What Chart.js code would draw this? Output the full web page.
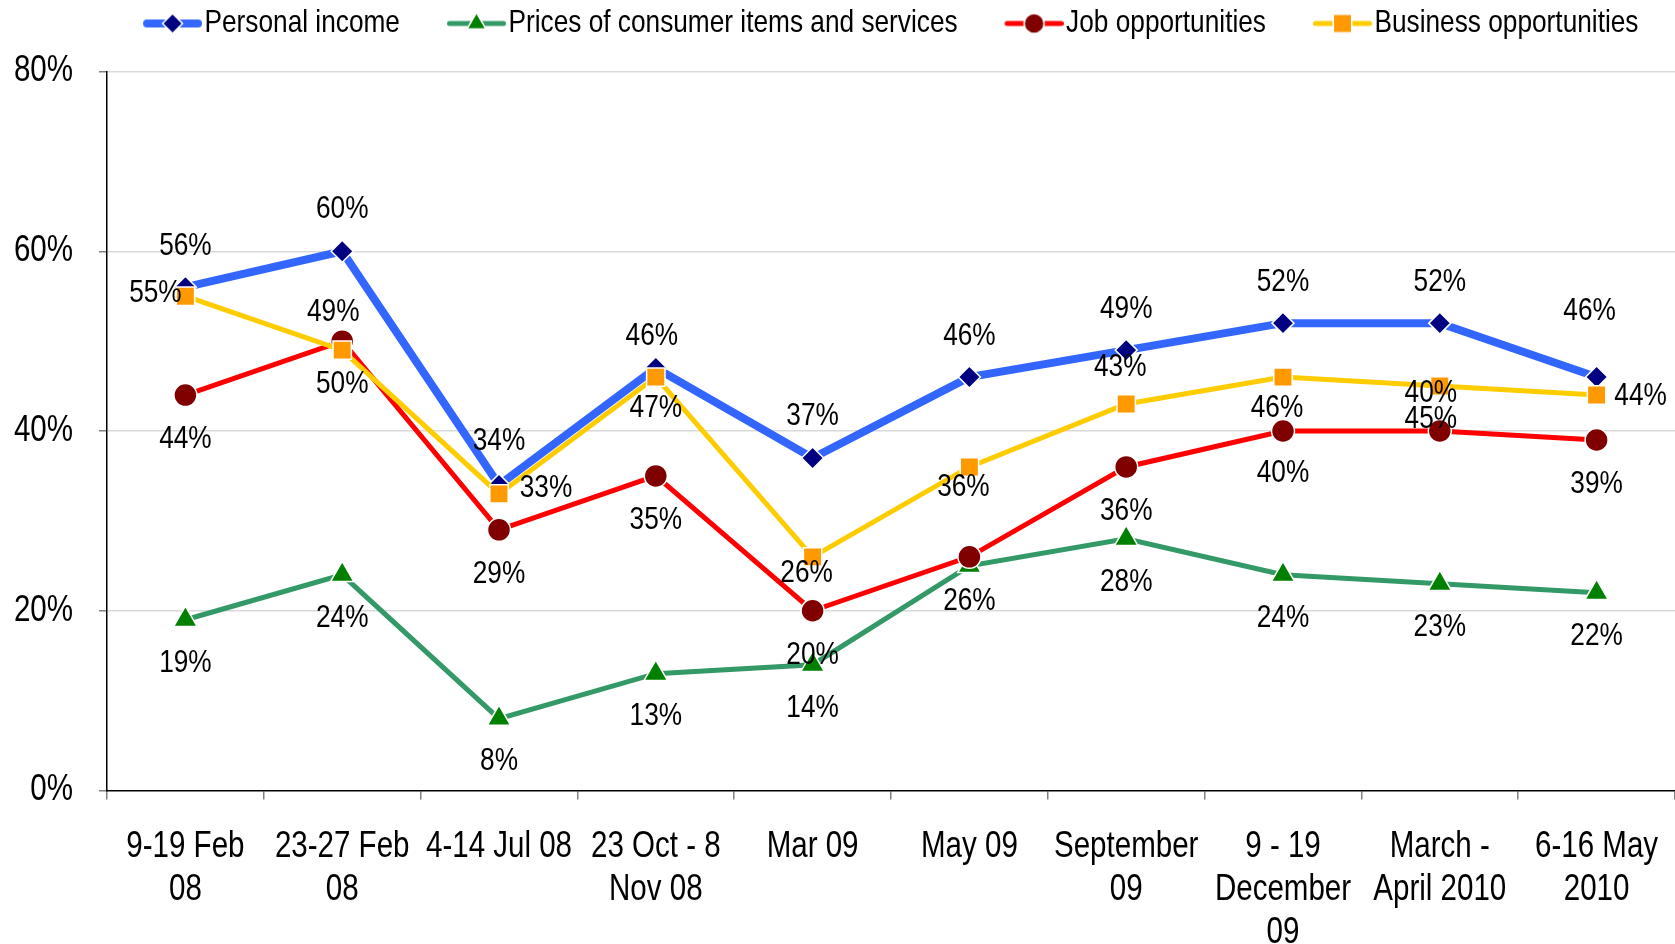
<!DOCTYPE html>
<html>
<head>
<meta charset="utf-8">
<script src="https://cdn.jsdelivr.net/npm/chart.js@4.4.1/dist/chart.umd.min.js"></script>
<style>
  html, body { margin: 0; padding: 0; background: #fff; overflow: hidden; }
  canvas { display: block; }
</style>
</head>
<body>
<canvas id="surveyChart" width="1675" height="944"></canvas>
<script>
var categories = [["9-19 Feb", "08"], ["23-27 Feb", "08"], "4-14 Jul 08", ["23 Oct - 8", "Nov 08"], "Mar 09", "May 09",
                  ["September", "09"], ["9 - 19", "December", "09"], ["March -", "April 2010"], ["6-16 May", "2010"]];
var personalIncome = [56, 60, 34, 47, 37, 46, 49, 52, 52, 46];
var consumerPrices = [19, 24, 8, 13, 14, 25, 28, 24, 23, 22];
var jobOpportunities = [44, 50, 29, 35, 20, 26, 36, 40, 40, 39];
var businessOpportunities = [55, 49, 33, 46, 26, 36, 43, 46, 45, 44];
var yTicks = [0, 20, 40, 60, 80];

// no narrow face installed, so squeeze Liberation Sans horizontally (Arial Narrow ~ 82%)
var fontFamily = "'Liberation Sans', Arial, sans-serif";
var squeeze = 0.82;

// line + marker image used as the legend symbol
function legendSymbol(lineColor, lineWidth, style, fill, radius) {
    var c = document.createElement('canvas');
    c.width = 112;
    c.height = 30;
    var g = c.getContext('2d');
    g.strokeStyle = lineColor;
    g.lineWidth = lineWidth;
    g.lineCap = 'round';
    g.beginPath();
    g.moveTo(53 + lineWidth / 2, 15);
    g.lineTo(112 - lineWidth / 2, 15);
    g.stroke();
    g.fillStyle = fill;
    g.strokeStyle = '#fff';
    g.lineWidth = 1.5;
    Chart.helpers.drawPoint(g, {pointStyle: style, radius: radius, rotation: 0, borderWidth: 1.5}, 82.5, 15);
    return c;
}

var pointLabels = {
    id: 'pointLabels',
    afterDatasetsDraw: function (chart) {
        var ctx = chart.ctx;
        ctx.save();
        ctx.font = '32px ' + fontFamily;
        ctx.fillStyle = '#000';
        ctx.textAlign = 'center';
        ctx.textBaseline = 'middle';
        chart.data.datasets.forEach(function (ds, i) {
            var meta = chart.getDatasetMeta(i);
            meta.data.forEach(function (pt, j) {
                if (ds.hideLabels.indexOf(j) >= 0) return;
                var off = ds.labelOffsets[j];
                ctx.fillText(ds.data[j] + '%', pt.x + off[0], pt.y + off[1]);
            });
        });
        ctx.restore();
    }
};

// legend: extra room below it, and centred over the plot area rather than the whole canvas
var legendOverPlot = {
    id: 'legendOverPlot',
    afterInit: function (chart) {
        var fit = chart.legend.fit;
        chart.legend.fit = function () {
            fit.call(this);
            this.height += 22;
        };
    },
    afterLayout: function (chart) {
        chart.legend.left = chart.chartArea.left - 40;
    }
};

var ctx = document.getElementById('surveyChart').getContext('2d');
var baseFill = ctx.fillText.bind(ctx);
var baseMeasure = ctx.measureText.bind(ctx);
ctx.fillText = function (text, x, y) {
    this.save();
    this.translate(x, y);
    this.scale(squeeze, 1);
    baseFill(text, 0, 0);
    this.restore();
};
ctx.measureText = function (text) {
    var m = baseMeasure(text);
    return { width: m.width * squeeze, actualBoundingBoxAscent: m.actualBoundingBoxAscent, actualBoundingBoxDescent: m.actualBoundingBoxDescent };
};

var myChart = new Chart(ctx, {
    type: 'line',
    data: {
        labels: categories,
        datasets: [{
            label: "Personal income",
            data: personalIncome,
            borderColor: "#3366FF",
            borderWidth: 8,
            pointStyle: 'rectRot',
            pointRadius: 11,
            pointBackgroundColor: "#000080",
            pointBorderColor: "#fff",
            pointBorderWidth: 1.5,
            order: 4,
            symbol: legendSymbol("#3366FF", 8, 'rectRot', "#000080", 10),
            labelOffsets: [[0, -41], [0, -42], [0, -44], [0, 40], [0, -42], [0, -41], [0, -41], [0, -41], [0, -41], [-7, -66]],
            hideLabels: []
        }, {
            label: "Prices of consumer items and services",
            data: consumerPrices,
            borderColor: "#339966",
            borderWidth: 5,
            pointStyle: 'triangle',
            pointRadius: 13.5,
            pointBackgroundColor: "#008000",
            pointBorderColor: "#fff",
            pointBorderWidth: 1.5,
            order: 3,
            symbol: legendSymbol("#339966", 5, 'triangle', "#008000", 11),
            labelOffsets: [[0, 43], [0, 43], [0, 43], [0, 43], [0, 43], [0, 43], [0, 43], [0, 43], [0, 43], [0, 43]],
            hideLabels: [5]
        }, {
            label: "Job opportunities",
            data: jobOpportunities,
            borderColor: "#FF0000",
            borderWidth: 5,
            pointStyle: 'circle',
            pointRadius: 11.5,
            pointBackgroundColor: "#800000",
            pointBorderColor: "#fff",
            pointBorderWidth: 1.5,
            order: 2,
            symbol: legendSymbol("#FF0000", 5, 'circle', "#800000", 10),
            labelOffsets: [[0, 44], [0, 43], [0, 44], [0, 44], [0, 44], [0, 44], [0, 44], [0, 42], [-9, -38], [0, 44]],
            hideLabels: []
        }, {
            label: "Business opportunities",
            data: businessOpportunities,
            borderColor: "#FFCC00",
            borderWidth: 5,
            pointStyle: 'rect',
            pointRadius: 13,
            pointBackgroundColor: "#FF9900",
            pointBorderColor: "#fff",
            pointBorderWidth: 1.5,
            order: 1,
            symbol: legendSymbol("#FFCC00", 5, 'rect', "#FF9900", 13),
            labelOffsets: [[-30, -3], [-9, -38], [47, -6], [-4, -41], [-6, 16], [-6, 20], [-6, -37], [-6, 31], [-9, 33], [44, 1]],
            hideLabels: []
        }]
    },
    options: {
        responsive: false,
        animation: false,
        events: [],
        layout: { padding: 0, autoPadding: false },
        plugins: {
            tooltip: { enabled: false },
            legend: {
                position: 'top',
                labels: {
                    usePointStyle: true,
                    pointStyleWidth: 85,
                    padding: 7.5,
                    color: '#000',
                    font: { family: fontFamily, size: 32 },
                    generateLabels: function (chart) {
                        return chart.data.datasets.map(function (ds, i) {
                            return {
                                text: ds.label,
                                pointStyle: ds.symbol,
                                datasetIndex: i,
                                hidden: false,
                                lineWidth: 0,
                                fillStyle: 'transparent',
                                strokeStyle: 'transparent'
                            };
                        });
                    }
                }
            }
        },
        scales: {
            x: {
                offset: true,
                grid: { offset: true, drawOnChartArea: false, tickLength: 9, tickColor: '#808080', lineWidth: 1.5 },
                border: { color: '#000', width: 1.5 },
                ticks: {
                    color: '#000',
                    font: { family: fontFamily, size: 36, lineHeight: 1.2 },
                    padding: 26,
                    maxRotation: 0,
                    autoSkip: false
                },
                afterFit: function (scale) {
                    scale.height = 153.5;
                    scale.paddingLeft = 0;
                    scale.paddingRight = 0;
                }
            },
            y: {
                min: yTicks[0],
                max: yTicks[yTicks.length - 1],
                afterBuildTicks: function (scale) {
                    scale.ticks = yTicks.map(function (v) { return { value: v }; });
                },
                grid: {
                    color: function (c) { return c.tick.value === 0 ? 'rgba(0,0,0,0)' : '#d9d9d9'; },
                    tickColor: '#808080',
                    tickLength: 8,
                    lineWidth: 1.5
                },
                border: { color: '#000', width: 1.5 },
                ticks: {
                    color: '#000',
                    font: { family: fontFamily, size: 36 },
                    padding: 26,
                    callback: function (v) { return v + '%'; }
                },
                afterFit: function (scale) { scale.width = 107; }
            }
        }
    },
    plugins: [pointLabels, legendOverPlot]
});
</script>
</body>
</html>
